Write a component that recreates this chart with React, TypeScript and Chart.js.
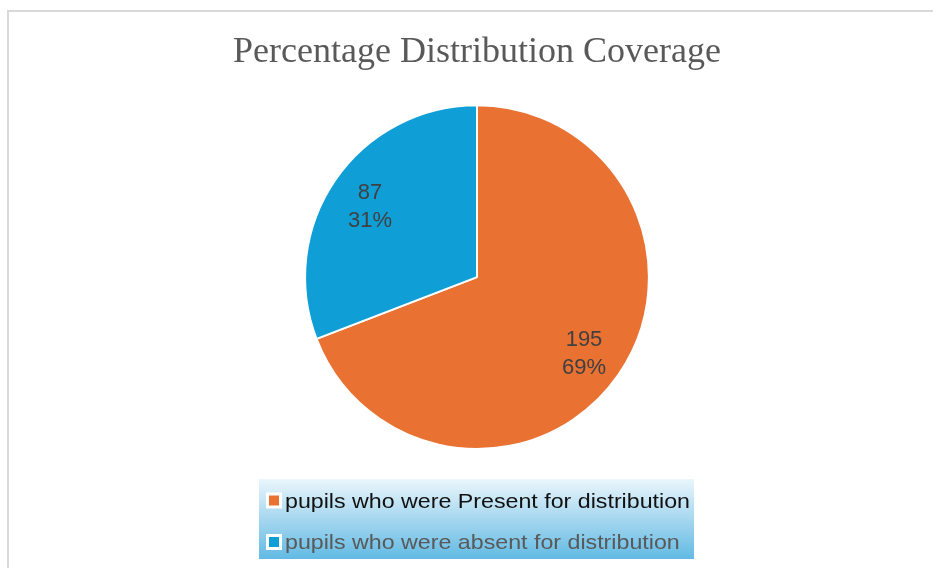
import React, { useEffect, useRef } from "react";
import { Chart, registerables } from "chart.js";

Chart.register(...registerables);

const categories = [
  "pupils who were Present for distribution",
  "pupils who were absent for distribution",
];
const counts = [195, 87];
const percentLabels = ["69%", "31%"];
const sliceColors = ["#E97132", "#0F9ED5"];
const legendTextColors = ["#111111", "#595959"];
const titleText = "Percentage Distribution Coverage";

const framePlugin = {
  id: "frame",
  beforeDraw(chart: any) {
    const ctx = chart.ctx;
    ctx.save();
    ctx.fillStyle = "#ffffff";
    ctx.fillRect(0, 0, chart.width, chart.height);
    ctx.strokeStyle = "#d9d9d9";
    ctx.lineWidth = 2;
    ctx.beginPath();
    ctx.moveTo(8, chart.height);
    ctx.lineTo(8, 11);
    ctx.lineTo(chart.width, 11);
    ctx.stroke();
    ctx.restore();
  },
};

const labelPlugin = {
  id: "sliceLabels",
  afterDatasetsDraw(chart: any) {
    const ctx = chart.ctx;
    const meta = chart.getDatasetMeta(0);
    ctx.save();
    ctx.fillStyle = "#404040";
    ctx.font = "22px 'Liberation Sans', Arial, sans-serif";
    ctx.textAlign = "center";
    ctx.textBaseline = "middle";
    meta.data.forEach((arc: any, i: number) => {
      const p = arc.getProps(["x", "y", "startAngle", "endAngle", "outerRadius"], true);
      const mid = (p.startAngle + p.endAngle) / 2;
      const r = p.outerRadius * 0.755;
      const cx = p.x + Math.cos(mid) * r;
      const cy = p.y + Math.sin(mid) * r + 3;
      ctx.fillText(String(chart.data.datasets[0].data[i]), cx, cy - 14);
      ctx.fillText(percentLabels[i], cx, cy + 14);
    });
    ctx.restore();
  },
};

const legendPlugin = {
  id: "gradLegend",
  afterDraw(chart: any) {
    const ctx = chart.ctx;
    const left = 259;
    const top = 479;
    const w = 435;
    const h = 80;
    ctx.save();
    const g = ctx.createLinearGradient(0, top, 0, top + h);
    g.addColorStop(0, "#ebf6fc");
    g.addColorStop(0.5, "#a6d7ef");
    g.addColorStop(1, "#62bae4");
    ctx.fillStyle = g;
    ctx.fillRect(left, top, w, h);
    const rows = [500.5, 542];
    const labels = chart.data.labels;
    const colors = chart.data.datasets[0].backgroundColor;
    labels.forEach((lab: string, i: number) => {
      const cy = rows[i];
      ctx.fillStyle = "#ffffff";
      ctx.fillRect(266, cy - 8, 16, 16);
      ctx.fillStyle = colors[i];
      ctx.fillRect(269, cy - 5, 10, 10);
      ctx.save();
      ctx.translate(285, cy + 7);
      ctx.scale(1.105, 1);
      ctx.font = "21px 'Liberation Sans', Arial, sans-serif";
      ctx.textAlign = "left";
      ctx.textBaseline = "alphabetic";
      ctx.fillStyle = legendTextColors[i];
      ctx.fillText(lab, 0, 0);
      ctx.restore();
    });
    ctx.restore();
  },
};

export default function App() {
  const ref = useRef<HTMLCanvasElement | null>(null);
  useEffect(() => {
    if (!ref.current) return;
    const chart = new Chart(ref.current, {
      type: "pie",
      data: {
        labels: categories,
        datasets: [
          {
            data: counts,
            backgroundColor: sliceColors,
            borderColor: "#ffffff",
            borderWidth: 2,
            hoverOffset: 0,
          },
        ],
      },
      options: {
        responsive: false,
        animation: false,
        devicePixelRatio: 1,
        layout: { padding: { left: 21, right: 0, top: 0, bottom: 118 } },
        plugins: {
          legend: { display: false },
          tooltip: { enabled: false },
          title: {
            display: true,
            text: titleText,
            color: "#595959",
            font: { family: "'Liberation Serif', 'Times New Roman', serif", size: 36, weight: "normal" },
            padding: { top: 31, bottom: 30 },
          },
        },
      },
      plugins: [framePlugin, labelPlugin, legendPlugin],
    });
    return () => chart.destroy();
  }, []);
  return (
    <div style={{ position: "fixed", left: 0, top: 0, width: 933, height: 568 }}>
      <canvas ref={ref} width={933} height={568} style={{ display: "block" }} />
    </div>
  );
}
